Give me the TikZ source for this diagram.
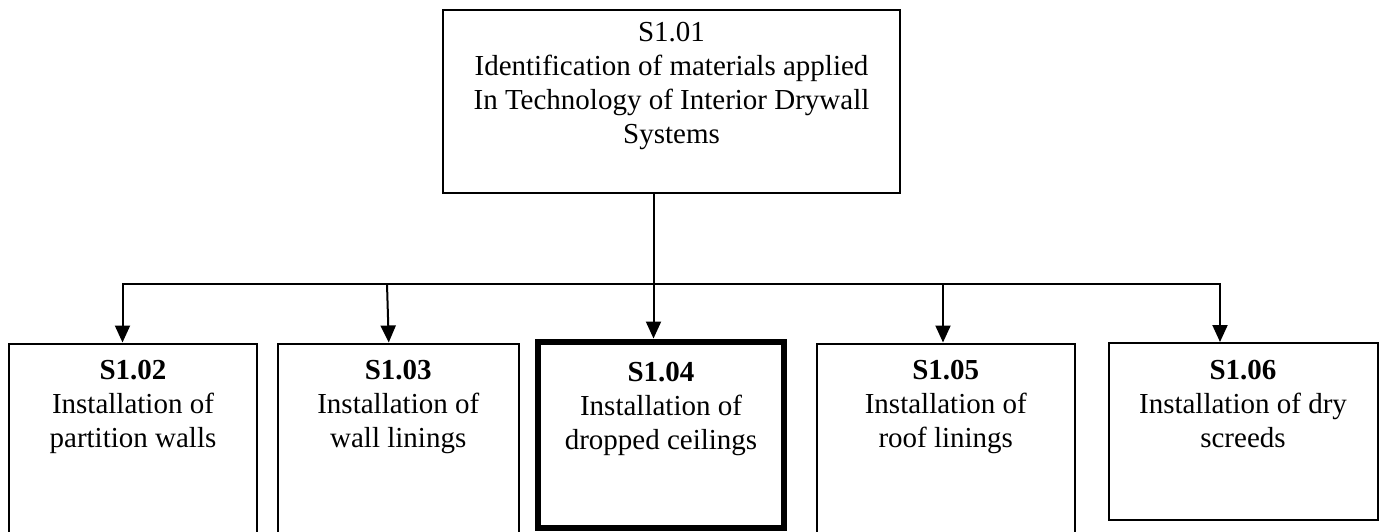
\documentclass[tikz,border=0pt]{standalone}
\usepackage{fontspec}
\setmainfont{Liberation Serif}
\usetikzlibrary{calc}
\usetikzlibrary{arrows.meta}

\tikzset{
  box/.style={draw, line width=2pt, inner sep=0pt},
  lbl/.style={align=center, inner sep=0pt, anchor=north, font=\fontsize{29}{34}\selectfont},
  bar/.style={line width=2pt, line cap=rect},
  arr/.style={line width=2pt, -{Triangle[width=15pt,length=17pt]}}
}

\begin{document}
\begin{tikzpicture}[x=1pt,y=1pt]
\clip (0,0) rectangle (1384,-531);

\node (S101) at (671.5,-101.5) [box, minimum width=457, minimum height=183] {};
\node (S102) at (133,-454) [box, minimum width=248, minimum height=221] {};
\node (S103) at (398.25,-454) [box, minimum width=240.5, minimum height=221] {};
\node (S104) at (661,-434.5) [box, line width=6pt, minimum width=246, minimum height=186] {};
\node (S105) at (945.75,-454) [box, minimum width=258.5, minimum height=221] {};
\node (S106) at (1243,-431.25) [box, minimum width=269, minimum height=176.5] {};

\node (T101) at ([yshift=-13.5]S101.north) [lbl] {S1.01\\Identification of materials applied\\In Technology of Interior Drywall\\Systems};
\node (T102) at ([yshift=-18]S102.north) [lbl] {\textbf{S1.02}\\Installation of\\partition walls};
\node (T103) at ([yshift=-18]S103.north) [lbl] {\textbf{S1.03}\\Installation of\\wall linings};
\node (T104) at ([yshift=-24]S104.north) [lbl] {\textbf{S1.04}\\Installation of\\dropped ceilings};
\node (T105) at ([yshift=-18]S105.north) [lbl] {\textbf{S1.05}\\Installation of\\roof linings};
\node (T106) at ([yshift=-18]S106.north) [lbl] {\textbf{S1.06}\\Installation of dry\\screeds};

\coordinate (J) at (653.5,-284);
\coordinate (K2) at (122.5,-284); \coordinate (K3) at (387,-284);
\coordinate (K5) at (943,-284); \coordinate (K6) at (1220,-284);

\draw [bar] (S101.south -| J) -- (J);
\draw [bar] (K2) -- (K6);
\draw [arr] (K2) -- (K2 |- S102.north);
\draw [arr] (K3) -- ([xshift=-9.5]S103.north);
\draw [arr] (J) -- (J |- S104.north);
\draw [arr] (K5) -- (K5 |- S105.north);
\draw [arr] (K6) -- (K6 |- S106.north);

\end{tikzpicture}
\end{document}
